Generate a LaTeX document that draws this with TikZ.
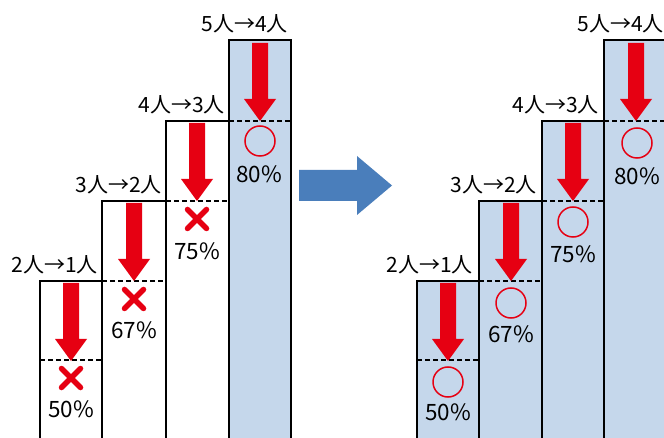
\documentclass[tikz,border=0pt]{standalone}
\usepackage{fontspec}
\newfontfamily\jp{Noto Sans CJK JP}
\definecolor{boxblue}{RGB}{197,215,235}
\definecolor{arrred}{RGB}{230,0,18}
\definecolor{bigblue}{RGB}{74,126,187}
\tikzset{
  colbox/.style={draw=black, line width=2.4pt},
  dline/.style={draw=black, line width=1.8pt, dash pattern=on 5pt off 3pt},
  rarrow/.pic={\fill[arrred] (-8,2) -- (8,2) -- (8,58) -- (16,58) -- (0,80) -- (-16,58) -- (-8,58) -- cycle;},
  xsign/.pic={\draw[arrred, line width=5.5pt, line cap=round] (-9.5,-9.5) -- (9.5,9.5) (-9.5,9.5) -- (9.5,-9.5);},
  osign/.pic={\draw[arrred, line width=1.5pt] (0,0) circle (15);},
  steplabel/.style={anchor=base east, font=\jp\fontsize{21}{24}\selectfont, inner sep=0pt},
  pct/.style={anchor=center, font=\jp\fontsize{22.5}{24}\selectfont, inner sep=0pt}
}
\begin{document}
\begin{tikzpicture}[x=1pt, y=-1pt]
\useasboundingbox (0,0) rectangle (664,438);
\clip (0,0) rectangle (664,438);
\fill[white] (0,0) rectangle (664,438);

% ---------- left panel ----------
\fill[boxblue] (229,40) rectangle (291,445);
\draw[dline] (40,360) -- (102,360);
\draw[dline] (102,281) -- (166,281);
\draw[dline] (166,201) -- (229,201);
\draw[dline] (229,121) -- (291,121);
\draw[colbox] (40,281) rectangle (102,450);
\draw[colbox] (102,201) rectangle (166,450);
\draw[colbox] (166,121) rectangle (229,450);
\draw[colbox] (229,40) rectangle (291,450);

\pic at (71,281) {rarrow};
\pic at (134,201) {rarrow};
\pic at (197,121) {rarrow};
\pic at (260,41) {rarrow};

\pic at (71,378) {xsign};
\pic at (134,299) {xsign};
\pic at (197,219) {xsign};
\pic at (260,141) {osign};

\node[steplabel] (l1) at (98,273) {2人→1人};
\node[steplabel] (l2) at (162,193) {3人→2人};
\node[steplabel] (l3) at (225,113) {4人→3人};
\node[steplabel] (l4) at (288,32) {5人→4人};

\node[pct] (p1) at (71,409) {50\%};
\node[pct] (p2) at (134,330) {67\%};
\node[pct] (p3) at (197,251) {75\%};
\node[pct] (p4) at (259,174) {80\%};

% ---------- big arrow ----------
\fill[bigblue] (299,170) -- (357,170) -- (357,156) -- (392,185.5) -- (357,215) -- (357,201) -- (299,201) -- cycle;

% ---------- right panel ----------
\fill[boxblue] (417,281) rectangle (479,445);
\fill[boxblue] (479,201) rectangle (542,445);
\fill[boxblue] (542,121) rectangle (604,445);
\fill[boxblue] (604,40) rectangle (670,445);
\draw[dline] (417,360) -- (479,360);
\draw[dline] (479,281) -- (542,281);
\draw[dline] (542,201) -- (604,201);
\draw[dline] (604,121) -- (670,121);
\draw[colbox] (417,281) rectangle (479,450);
\draw[colbox] (479,201) rectangle (542,450);
\draw[colbox] (542,121) rectangle (604,450);
\draw[colbox] (604,40) rectangle (668,450);

\pic at (448,281) {rarrow};
\pic at (511,201) {rarrow};
\pic at (573,121) {rarrow};
\pic at (636,41) {rarrow};

\pic at (448,382) {osign};
\pic at (511,303) {osign};
\pic at (573,222) {osign};
\pic at (637,143) {osign};

\node[steplabel] (r1) at (473,273) {2人→1人};
\node[steplabel] (r2) at (537,193) {3人→2人};
\node[steplabel] (r3) at (599,113) {4人→3人};
\node[steplabel] (r4) at (664,32) {5人→4人};

\node[pct] (q1) at (448,412) {50\%};
\node[pct] (q2) at (511,334) {67\%};
\node[pct] (q3) at (573,254) {75\%};
\node[pct] (q4) at (637,176) {80\%};
\end{tikzpicture}
\end{document}
